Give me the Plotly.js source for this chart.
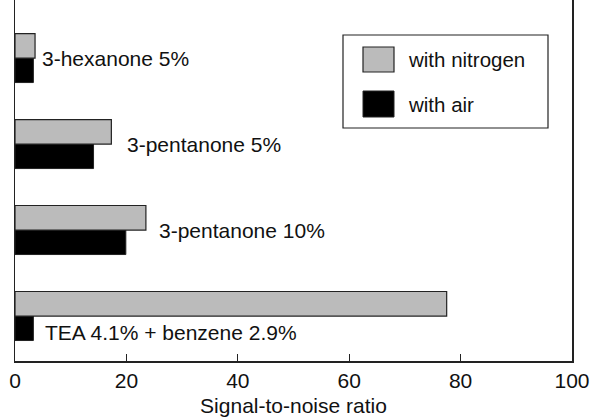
<!DOCTYPE html>
<html>
<head>
<meta charset="utf-8">
<script src="https://cdn.plot.ly/plotly-3.0.1.min.js"></script>
<style>html,body{margin:0;padding:0;background:#fff;}#chart{width:591px;height:417px;}</style>
</head>
<body>
<div id="chart"></div>
<script>
// Data (bottom to top)
const categories = ["TEA 4.1% + benzene 2.9%", "3-pentanone 10%", "3-pentanone 5%", "3-hexanone 5%"];
const withNitrogen = [77.5, 23.5, 17.3, 3.6];
const withAir = [3.3, 19.9, 14.1, 3.3];
const xTicks = [0, 20, 40, 60, 80, 100];
const seriesNames = ["with nitrogen", "with air"];
const xTitle = "Signal-to-noise ratio";

const yPos = categories.map((c, i) => i);
const FONT = "Liberation Sans, Arial, Helvetica, sans-serif";
const lineCol = "#222";

const traces = [
  {type: "bar", orientation: "h", name: seriesNames[1], x: withAir, y: yPos,
   marker: {color: "#000000", line: {color: lineCol, width: 1}}, hoverinfo: "x"},
  {type: "bar", orientation: "h", name: seriesNames[0], x: withNitrogen, y: yPos,
   marker: {color: "#bbbbbb", line: {color: lineCol, width: 1.2}}, hoverinfo: "x"}
];

// label placement (x start, y offset) per category
const labelX = [5.0, 25.5, 19.8, 4.5];
const labelDY = [-0.19, 0, 0, 0];
const annotations = categories.map((c, i) => ({
  text: c, x: labelX[i], y: yPos[i] + labelDY[i], xref: "x", yref: "y",
  xanchor: "left", yanchor: "middle", showarrow: false,
  font: {family: FONT, size: 21, color: "#111"}
}));

// custom legend (paper coordinates)
const px = p => (p - 15) / 557;
const py = p => (361 - p) / 361;
const shapes = [
  {type: "rect", xref: "paper", yref: "paper", x0: px(343), x1: px(548), y0: py(128), y1: py(35),
   line: {color: lineCol, width: 1.2}, fillcolor: "#fff"},
  {type: "rect", xref: "paper", yref: "paper", x0: px(363), x1: px(394), y0: py(72), y1: py(47),
   line: {color: lineCol, width: 1.2}, fillcolor: "#bbbbbb"},
  {type: "rect", xref: "paper", yref: "paper", x0: px(363), x1: px(394), y0: py(117), y1: py(91),
   line: {color: lineCol, width: 1}, fillcolor: "#000000"}
];
annotations.push(
  {text: seriesNames[0], xref: "paper", yref: "paper", x: px(406), y: py(60), xanchor: "left", yanchor: "middle",
   showarrow: false, font: {family: FONT, size: 20.5, color: "#111"}},
  {text: seriesNames[1], xref: "paper", yref: "paper", x: px(406), y: py(104), xanchor: "left", yanchor: "middle",
   showarrow: false, font: {family: FONT, size: 20.5, color: "#111"}}
);

const layout = {
  width: 591, height: 417,
  margin: {l: 15, r: 19, t: 0, b: 56, pad: 0},
  paper_bgcolor: "#fff", plot_bgcolor: "#fff",
  barmode: "group", bargap: 0.43, bargroupgap: 0,
  showlegend: false,
  font: {family: FONT, size: 21, color: "#111"},
  xaxis: {
    range: [0, 100], tickvals: xTicks, ticktext: xTicks.map(String),
    ticks: "inside", ticklen: 7, tickcolor: lineCol, tickwidth: 1.2,
    showline: true, linecolor: lineCol, linewidth: 1.5, mirror: false,
    showgrid: false, zeroline: false,
    tickfont: {family: FONT, size: 21, color: "#111"},
    title: {text: xTitle, font: {family: FONT, size: 21, color: "#111"}, standoff: 8}
  },
  yaxis: {
    range: [-0.523, 3.675], showticklabels: false, ticks: "",
    showline: true, linecolor: lineCol, linewidth: 1.5, mirror: true,
    showgrid: false, zeroline: false
  },
  shapes: shapes,
  annotations: annotations
};

Plotly.newPlot("chart", traces, layout, {displayModeBar: false, staticPlot: true});
</script>
</body>
</html>
